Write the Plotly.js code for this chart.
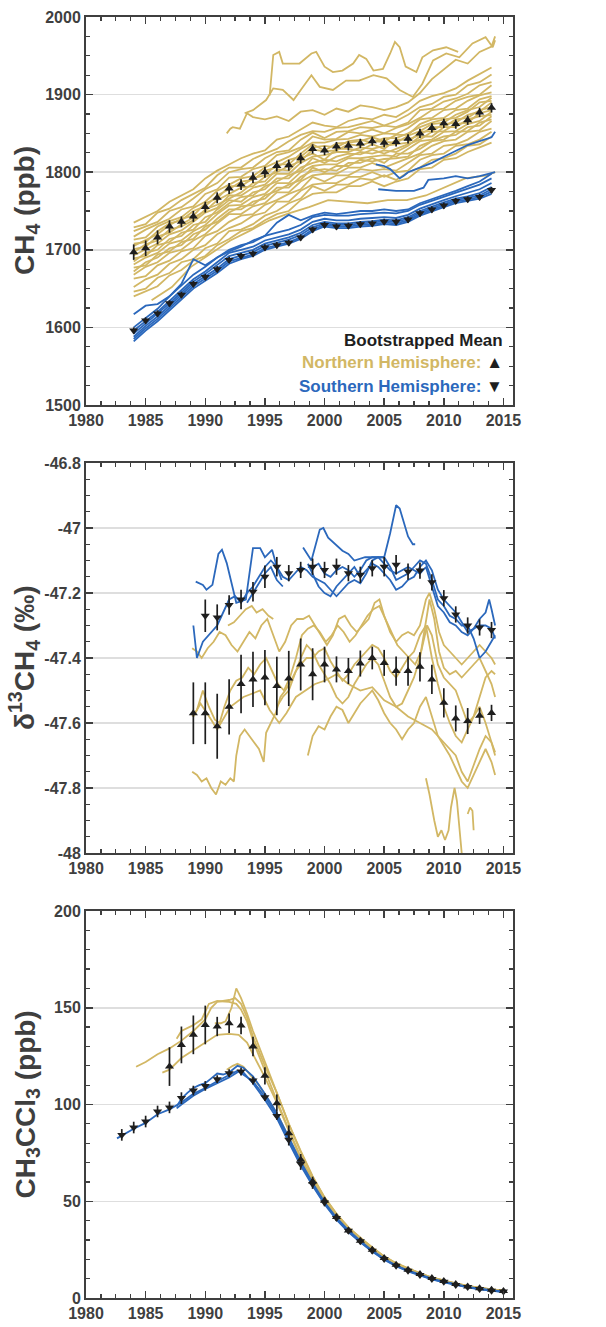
<!DOCTYPE html>
<html>
<head>
<meta charset="utf-8">
<script src="https://cdn.plot.ly/plotly-3.0.1.min.js"></script>
<style>html,body{margin:0;padding:0;background:#fff;}#chart{width:606px;height:1327px;}</style>
</head>
<body>
<div id="chart"></div>
<script>
// ---------------- Panel 1: CH4 (ppb) ----------------
const ch4Years = [1984,1985,1986,1987,1988,1989,1990,1991,1992,1993,1994,1995,1996,1997,1998,1999,2000,2001,2002,2003,2004,2005,2006,2007,2008,2009,2010,2011,2012,2013,2014];

const ch4NH1  = [1735,1742,1750,1762,1770,1778,1792,1802,1810,1818,1824,1828,1842,1846,1855,1864,1860,1858,1866,1870,1868,1874,1871,1880,1892,1898,1902,1908,1918,1926,1935];
const ch4NH2  = [1729,1733,1748,1753,1764,1772,1780,1796,1806,1806,1817,1824,1830,1840,1848,1853,1852,1857,1858,1862,1866,1860,1866,1874,1884,1888,1897,1900,1912,1916,1926];
const ch4NH3  = [1724,1730,1736,1750,1755,1766,1778,1786,1800,1804,1806,1818,1826,1828,1842,1851,1844,1852,1853,1858,1857,1860,1858,1864,1880,1882,1891,1895,1901,1912,1916];
const ch4NH4  = [1717,1726,1733,1740,1752,1756,1772,1778,1793,1794,1804,1808,1822,1826,1832,1846,1842,1843,1852,1850,1855,1850,1857,1862,1870,1880,1882,1892,1897,1900,1912];
const ch4NH5  = [1713,1716,1730,1737,1742,1754,1762,1776,1784,1792,1795,1806,1813,1820,1830,1838,1838,1842,1843,1848,1846,1850,1849,1857,1868,1870,1880,1882,1892,1899,1903];
const ch4NH6  = [1705,1713,1720,1732,1740,1744,1760,1766,1782,1782,1792,1796,1810,1810,1824,1836,1828,1837,1838,1840,1845,1840,1848,1848,1862,1868,1870,1880,1882,1894,1898];
const ch4NH7  = [1701,1704,1717,1722,1733,1742,1750,1764,1772,1780,1782,1794,1800,1808,1814,1829,1827,1828,1836,1834,1840,1839,1838,1847,1853,1862,1864,1874,1880,1884,1896];
const ch4NH8  = [1693,1701,1708,1720,1725,1736,1748,1754,1770,1770,1780,1784,1798,1798,1812,1820,1822,1826,1826,1832,1830,1834,1836,1838,1852,1853,1862,1864,1874,1878,1890];
const ch4NH9  = [1689,1692,1706,1710,1722,1726,1742,1748,1760,1768,1770,1782,1788,1796,1802,1818,1812,1820,1824,1823,1829,1824,1830,1836,1842,1852,1853,1862,1864,1876,1880];
const ch4NH10 = [1681,1690,1696,1708,1712,1724,1732,1746,1757,1758,1768,1772,1786,1786,1800,1808,1810,1810,1818,1818,1820,1822,1820,1830,1840,1842,1852,1853,1862,1866,1878];
const ch4NH11 = [1677,1680,1694,1698,1710,1714,1730,1736,1748,1756,1758,1770,1776,1784,1790,1806,1800,1808,1808,1816,1814,1817,1818,1820,1834,1840,1842,1852,1853,1864,1868];
const ch4NH12 = [1668,1678,1684,1696,1700,1712,1720,1734,1746,1746,1756,1760,1774,1774,1788,1796,1798,1798,1806,1806,1812,1806,1812,1818,1824,1834,1840,1842,1852,1854,1866];
const ch4NH13 = [1663,1666,1680,1686,1698,1702,1718,1724,1736,1744,1746,1758,1764,1772,1778,1794,1788,1796,1796,1804,1802,1804,1802,1812,1822,1824,1834,1836,1842,1852,1856];
const ch4NH14 = [1652,1662,1668,1682,1688,1700,1706,1720,1728,1734,1744,1748,1762,1762,1776,1784,1786,1786,1794,1794,1800,1794,1800,1802,1816,1822,1824,1834,1836,1842,1852];
const ch4NH15 = [1646,1650,1664,1670,1684,1688,1702,1708,1724,1726,1733,1744,1750,1760,1766,1782,1776,1784,1784,1792,1790,1796,1790,1800,1806,1816,1818,1824,1834,1836,1846];
const ch4NH16 = [1640,1646,1653,1667,1674,1686,1692,1706,1714,1724,1728,1738,1746,1750,1764,1772,1774,1774,1782,1782,1788,1782,1788,1792,1804,1806,1816,1818,1826,1832,1838];
const ch4NH17 = [1708,1710,1724,1734,1738,1750,1756,1770,1778,1788,1790,1802,1806,1816,1820,1832,1834,1832,1840,1842,1838,1844,1844,1850,1858,1864,1868,1870,1878,1890,1892];
const ch4NH18 = [1697,1707,1712,1726,1730,1738,1752,1758,1766,1774,1786,1788,1804,1802,1818,1824,1816,1830,1830,1828,1836,1830,1842,1842,1848,1858,1858,1868,1870,1880,1884];
const ch4NH19 = [1685,1696,1700,1714,1718,1732,1736,1752,1764,1762,1774,1778,1792,1792,1806,1812,1816,1814,1820,1826,1824,1828,1826,1834,1846,1846,1858,1858,1868,1872,1874];
const ch4NH20 = [1672,1684,1690,1702,1706,1720,1726,1740,1752,1752,1762,1766,1780,1780,1794,1802,1804,1802,1812,1812,1818,1812,1824,1824,1830,1840,1846,1848,1858,1860,1872];

// irregular NH stations [year, ppb]
const ch4NHlow  = [[1985.5,1635],[1987.2,1652],[1988.8,1678],[1990.5,1695],[1992.1,1712],[1993.8,1725],[1995.4,1738],[1997.0,1747],[1998.7,1755],[2000.3,1764],[2002.0,1762],[2003.6,1760],[2005.3,1764],[2006.9,1764],[2008.5,1770],[2010.2,1781],[2011.8,1792],[2013.6,1796],[2014.3,1800]];
const ch4NHtop1 = [[1995.4,1899],[1995.7,1951],[1996.2,1955],[1996.5,1940],[1997.1,1940],[1997.9,1940],[1998.9,1953],[1999.3,1955],[2000.0,1936],[2000.7,1929],[2001.5,1931],[2002.4,1940],[2002.9,1951],[2003.5,1946],[2004.1,1931],[2004.9,1933],[2005.5,1953],[2005.9,1968],[2006.3,1961],[2006.8,1936],[2007.7,1929],[2008.2,1948],[2009.1,1957],[2010.2,1961],[2011.2,1955]];
const ch4NHtop2 = [[1993.3,1876],[1994.0,1880],[1995.1,1893],[1995.7,1908],[1996.5,1906],[1997.4,1893],[1998.2,1910],[1998.9,1925],[1999.6,1910],[2000.7,1906],[2001.8,1918],[2002.9,1918],[2004.1,1925],[2005.2,1921],[2006.3,1906],[2007.4,1897],[2008.2,1914],[2009.1,1944],[2010.2,1953],[2011.3,1948],[2012.4,1966],[2013.5,1974],[2014.1,1961],[2014.3,1970]];
const ch4NHtop3 = [[1991.8,1850],[1992.1,1856],[1992.3,1858],[1992.9,1856],[1993.5,1876],[1994.0,1871],[1995.0,1868],[1996.0,1872],[1997.0,1866],[1998.0,1878],[1999.0,1880],[2000.0,1874],[2001.0,1882],[2002.0,1878],[2003.0,1886],[2004.0,1884],[2005.0,1880],[2006.0,1884],[2007.0,1890],[2008.0,1902],[2009.0,1920],[2010.0,1932],[2011.0,1945],[2012.0,1940],[2013.0,1955],[2014.0,1962],[2014.3,1975]];

const ch4SH1 = [1582,1596,1608,1622,1636,1650,1660,1670,1682,1688,1692,1700,1704,1708,1714,1724,1730,1728,1728,1730,1731,1733,1732,1736,1744,1750,1755,1760,1763,1766,1772];
const ch4SH2 = [1585,1599,1611,1625,1639,1653,1663,1673,1685,1690,1694,1702,1706,1710,1716,1726,1732,1730,1730,1732,1733,1735,1734,1738,1746,1752,1757,1762,1765,1768,1775];
const ch4SH3 = [1588,1602,1614,1628,1642,1656,1666,1676,1688,1693,1697,1705,1709,1713,1719,1729,1734,1732,1732,1734,1735,1737,1736,1740,1748,1754,1759,1764,1767,1770,1778];
const ch4SH4 = [1592,1605,1617,1631,1645,1659,1669,1680,1692,1696,1700,1708,1712,1716,1722,1732,1736,1734,1734,1736,1737,1739,1738,1742,1750,1756,1761,1766,1769,1773,1781];
const ch4SH5 = [1596,1608,1620,1634,1648,1662,1672,1684,1696,1700,1704,1712,1716,1720,1726,1736,1740,1738,1738,1740,1741,1742,1741,1745,1753,1759,1764,1769,1773,1778,1786];
const ch4SH6 = [1600,1612,1624,1640,1654,1668,1678,1690,1700,1706,1710,1718,1722,1726,1732,1742,1745,1744,1744,1746,1747,1748,1747,1750,1758,1763,1768,1773,1778,1784,1792];
const ch4SH7 = [1617,1628,1630,1640,1656,1688,1680,1690,1698,1704,1712,1718,1735,1745,1738,1744,1748,1746,1748,1750,1750,1752,1750,1752,1760,1765,1770,1776,1782,1788,1798];
const ch4SHhigh = [[2004.3,1810],[2005.0,1808],[2005.5,1804],[2006.0,1796],[2006.3,1792],[2006.7,1796],[2007.0,1800],[2008.0,1806],[2009.0,1812],[2010.0,1820],[2011.0,1828],[2012.0,1835],[2013.0,1840],[2014.0,1845],[2014.3,1852]];
const ch4SHmid  = [[2004.5,1778],[2006.0,1776],[2007.5,1776],[2008.3,1780],[2008.7,1790],[2010.0,1792],[2011.0,1795],[2012.0,1792],[2013.0,1795],[2014.3,1800]];

const ch4MeanNH = [1697,1702,1716,1730,1736,1743,1755,1767,1779,1784,1793,1800,1808,1809,1818,1830,1828,1833,1834,1837,1840,1838,1839,1843,1850,1857,1863,1862,1867,1877,1883];
const ch4ErrNH  = [10,10,9,8,7,7,7,7,7,7,7,7,7,7,7,6,6,6,6,6,6,6,6,6,6,6,6,6,6,6,6];
const ch4MeanSH = [1596,1609,1618,1631,1642,1656,1665,1675,1687,1692,1695,1703,1706,1709,1716,1726,1732,1730,1731,1733,1734,1736,1736,1739,1747,1752,1757,1763,1765,1768,1777];
const ch4ErrSH  = [4,4,4,4,4,4,4,4,4,4,4,4,4,4,4,4,4,4,4,4,4,4,4,4,4,4,4,4,4,4,4];

// ---------------- Panel 2: d13CH4 (permil) ----------------
const d13NH1 = [[1988.9,-47.37],[1989.3,-47.38],[1989.7,-47.40],[1990.2,-47.37],[1990.7,-47.35],[1991.2,-47.32],[1991.7,-47.33],[1992.2,-47.36],[1992.7,-47.38],[1993.2,-47.35],[1993.7,-47.32],[1994.2,-47.34],[1994.7,-47.30],[1995.2,-47.28],[1995.7,-47.33],[1996.2,-47.38],[1996.7,-47.35],[1997.2,-47.30],[1997.7,-47.28],[1998.2,-47.28],[1998.7,-47.27],[1999.2,-47.30],[1999.7,-47.33],[2000.2,-47.36],[2000.7,-47.33],[2001.2,-47.28],[2001.7,-47.27],[2002.2,-47.30],[2002.7,-47.32],[2003.2,-47.30],[2003.7,-47.28],[2004.2,-47.23],[2004.6,-47.22],[2005.0,-47.27],[2005.5,-47.32],[2006.0,-47.35],[2006.5,-47.33],[2007.0,-47.32],[2007.5,-47.33],[2008.0,-47.30],[2008.5,-47.22],[2008.8,-47.20],[2009.2,-47.25],[2009.6,-47.32],[2010.0,-47.36],[2010.5,-47.38],[2011.0,-47.40],[2011.5,-47.42],[2012.0,-47.40],[2012.5,-47.38],[2013.0,-47.36],[2013.5,-47.38],[2014.0,-47.40],[2014.3,-47.42]];
const d13NH2 = [[1991.9,-47.30],[1992.4,-47.29],[1992.9,-47.27],[1993.4,-47.25],[1993.9,-47.24],[1994.3,-47.26],[1994.8,-47.25],[1995.3,-47.27],[1995.7,-47.28]];
const d13NH3 = [[1988.9,-47.58],[1989.3,-47.56],[1989.8,-47.50],[1990.3,-47.55],[1990.8,-47.59],[1991.2,-47.60],[1991.6,-47.55],[1992.1,-47.50],[1992.6,-47.47],[1993.1,-47.46],[1993.6,-47.43],[1994.1,-47.45],[1994.6,-47.42],[1995.1,-47.40],[1995.6,-47.44],[1996.1,-47.48],[1996.6,-47.50],[1997.1,-47.46],[1997.6,-47.40],[1998.1,-47.33],[1998.6,-47.31],[1999.1,-47.30],[1999.6,-47.32],[2000.1,-47.35],[2000.6,-47.33],[2001.1,-47.30],[2001.6,-47.32],[2002.1,-47.35],[2002.6,-47.33],[2003.1,-47.30],[2003.6,-47.27],[2004.1,-47.25],[2004.6,-47.24],[2005.1,-47.28],[2005.6,-47.32],[2006.1,-47.36],[2006.6,-47.38],[2007.1,-47.40],[2007.6,-47.42],[2008.1,-47.38],[2008.6,-47.30],[2009.0,-47.33],[2009.5,-47.42],[2010.0,-47.46],[2010.5,-47.48],[2011.0,-47.50],[2011.5,-47.55],[2012.0,-47.60],[2012.5,-47.58],[2013.0,-47.52],[2013.5,-47.46],[2014.0,-47.44],[2014.3,-47.45]];
const d13NH4 = [[1988.9,-47.75],[1989.3,-47.76],[1989.7,-47.78],[1990.1,-47.77],[1990.5,-47.80],[1990.9,-47.82],[1991.3,-47.78],[1991.7,-47.79],[1992.1,-47.77],[1992.4,-47.78],[1992.6,-47.70],[1992.9,-47.64],[1993.3,-47.62],[1993.7,-47.64],[1994.1,-47.66],[1994.5,-47.68],[1994.9,-47.72],[1995.1,-47.63],[1995.5,-47.60],[1995.9,-47.57],[1996.3,-47.52],[1996.7,-47.50],[1997.2,-47.47],[1997.6,-47.44],[1998.0,-47.42],[1998.5,-47.40],[1999.0,-47.40],[1999.5,-47.38],[2000.0,-47.37],[2000.5,-47.41],[2001.0,-47.44],[2001.5,-47.47],[2002.0,-47.45],[2002.5,-47.42],[2003.0,-47.40],[2003.5,-47.38],[2004.0,-47.36],[2004.5,-47.37],[2005.0,-47.40],[2005.5,-47.44],[2006.0,-47.46],[2006.5,-47.43],[2007.0,-47.40],[2007.5,-47.38],[2008.0,-47.33],[2008.5,-47.30],[2009.0,-47.40],[2009.5,-47.48],[2010.0,-47.55],[2010.5,-47.60],[2011.0,-47.64],[2011.5,-47.66],[2012.0,-47.62],[2012.5,-47.58],[2013.0,-47.55],[2013.5,-47.60],[2014.0,-47.66],[2014.3,-47.69]];
const d13NH5 = [[1989.0,-47.58],[1989.6,-47.54],[1990.5,-47.59],[1991.0,-47.62],[1992.1,-47.55],[1993.2,-47.52],[1994.6,-47.50],[1995.4,-47.56],[1996.2,-47.60],[1996.8,-47.57],[1997.6,-47.52],[1998.4,-47.50],[1999.2,-47.48],[2000.0,-47.47],[2001.0,-47.45],[2002.0,-47.48],[2003.0,-47.50],[2004.0,-47.49],[2005.0,-47.53],[2006.0,-47.55],[2007.0,-47.58],[2008.0,-47.60],[2009.0,-47.62],[2010.0,-47.66],[2011.0,-47.70],[2011.5,-47.75],[2012.0,-47.78],[2012.5,-47.73],[2013.0,-47.68],[2013.5,-47.64],[2014.0,-47.66],[2014.3,-47.70]];
const d13NH6 = [[1998.6,-47.70],[1999.0,-47.64],[1999.5,-47.61],[2000.0,-47.62],[2000.5,-47.58],[2001.0,-47.55],[2001.5,-47.56],[2002.0,-47.60],[2002.5,-47.57],[2003.0,-47.54],[2003.5,-47.52],[2004.0,-47.50],[2004.5,-47.53],[2005.0,-47.57],[2005.5,-47.60],[2006.0,-47.62],[2006.5,-47.65],[2007.0,-47.62],[2007.5,-47.60],[2008.0,-47.55],[2008.5,-47.52],[2009.0,-47.58],[2009.5,-47.64],[2010.0,-47.67],[2010.5,-47.70],[2011.0,-47.74],[2011.5,-47.78],[2012.0,-47.80],[2012.5,-47.76],[2013.0,-47.72],[2013.5,-47.68],[2014.0,-47.72],[2014.3,-47.76]];
const d13NH7 = [[2008.5,-47.77],[2008.8,-47.82],[2009.2,-47.90],[2009.5,-47.95],[2009.8,-47.93],[2010.1,-47.96],[2010.4,-47.93],[2010.6,-47.86],[2010.9,-47.80],[2011.1,-47.84],[2011.3,-47.92],[2011.5,-48.00]];
const d13NH8 = [[2012.0,-47.88],[2012.2,-47.86],[2012.4,-47.87],[2012.5,-47.93]];
const d13NH9 = [[1996.0,-47.55],[1996.5,-47.52],[1997.0,-47.50],[1997.5,-47.45],[1998.0,-47.40],[1998.5,-47.36],[1999.0,-47.38],[1999.5,-47.42],[2000.0,-47.45],[2000.5,-47.48],[2001.0,-47.52],[2001.5,-47.54],[2002.0,-47.52],[2002.5,-47.48],[2003.0,-47.45],[2003.5,-47.42],[2004.0,-47.40],[2004.5,-47.42],[2005.0,-47.47],[2005.5,-47.52],[2006.0,-47.55],[2006.5,-47.54],[2007.0,-47.50],[2007.5,-47.46],[2008.0,-47.40],[2008.5,-47.28],[2008.8,-47.22],[2009.2,-47.28],[2009.6,-47.38],[2010.0,-47.43],[2010.5,-47.45],[2011.0,-47.44],[2011.5,-47.46],[2012.0,-47.44],[2012.5,-47.42],[2013.0,-47.40],[2013.5,-47.44],[2014.0,-47.48],[2014.3,-47.52]];

const d13SH1 = [[1989.2,-47.165],[1989.8,-47.175],[1990.1,-47.19],[1990.6,-47.175],[1991.1,-47.08],[1991.4,-47.067],[1991.8,-47.108],[1992.3,-47.18],[1992.6,-47.23],[1993.4,-47.22],[1994.0,-47.062],[1994.6,-47.062],[1995.0,-47.09],[1995.6,-47.067],[1996.0,-47.12],[1996.4,-47.16]];
const d13SH2 = [[1989.0,-47.30],[1989.3,-47.40],[1989.8,-47.35],[1990.5,-47.32],[1991.0,-47.30],[1991.5,-47.26],[1992.0,-47.22],[1992.5,-47.21],[1993.0,-47.23],[1993.5,-47.20],[1994.0,-47.18],[1994.5,-47.15],[1995.0,-47.12],[1995.5,-47.10],[1996.0,-47.12],[1996.5,-47.15],[1997.0,-47.16],[1997.5,-47.14],[1998.0,-47.12],[1998.5,-47.13],[1999.0,-47.15],[1999.5,-47.16],[2000.0,-47.17],[2000.5,-47.19],[2001.0,-47.21],[2001.5,-47.19],[2002.0,-47.17],[2002.5,-47.16],[2003.0,-47.17],[2003.5,-47.14],[2004.0,-47.10],[2004.5,-47.09],[2005.0,-47.09],[2005.5,-47.12],[2006.0,-47.16],[2006.5,-47.15],[2007.0,-47.14],[2007.5,-47.12],[2008.0,-47.10],[2008.5,-47.11],[2009.0,-47.16],[2009.5,-47.22],[2010.0,-47.24],[2010.5,-47.27],[2011.0,-47.28],[2011.5,-47.30],[2012.0,-47.30],[2012.5,-47.34],[2013.0,-47.40],[2013.5,-47.38],[2014.0,-47.35],[2014.3,-47.33]];
const d13SH3 = [[1998.2,-47.06],[1998.9,-47.10],[1999.6,-47.005],[1999.9,-47.00],[2000.3,-47.03],[2000.9,-47.05],[2001.5,-47.07],[2002.0,-47.08],[2002.5,-47.10],[2003.4,-47.09],[2004.2,-47.09],[2005.0,-47.09],[2005.5,-47.016],[2006.0,-46.93],[2006.3,-46.94],[2006.6,-46.975],[2007.0,-47.026],[2007.4,-47.05],[2007.6,-47.05]];
const d13SH4 = [[1993.5,-47.23],[1994.0,-47.20],[1994.5,-47.17],[1995.0,-47.14],[1995.5,-47.12],[1996.0,-47.16],[1996.5,-47.18]];
const d13SH5 = [[1998.6,-47.11],[1999.0,-47.14],[1999.5,-47.18],[2000.0,-47.20],[2000.5,-47.21],[2001.0,-47.18],[2001.5,-47.16],[2002.0,-47.14],[2002.5,-47.12],[2003.0,-47.15],[2003.5,-47.13],[2004.0,-47.11],[2004.5,-47.12],[2005.0,-47.14],[2005.5,-47.16],[2006.0,-47.19],[2006.5,-47.18],[2007.0,-47.16],[2007.5,-47.15],[2008.0,-47.12],[2008.5,-47.10],[2009.0,-47.13],[2009.5,-47.19],[2010.0,-47.22],[2010.5,-47.24],[2011.0,-47.26],[2011.5,-47.29],[2012.0,-47.32],[2012.5,-47.31],[2013.0,-47.28],[2013.5,-47.26],[2013.8,-47.22],[2014.0,-47.25],[2014.3,-47.30]];
const d13SH6 = [[1998.6,-47.12],[1999.0,-47.12],[1999.5,-47.11],[2000.0,-47.14],[2000.5,-47.15],[2001.0,-47.13],[2001.5,-47.12],[2002.0,-47.13],[2002.5,-47.15],[2003.0,-47.13],[2003.5,-47.10],[2004.0,-47.09],[2004.5,-47.09],[2005.0,-47.11],[2005.5,-47.13],[2006.0,-47.14],[2006.5,-47.13],[2007.0,-47.12],[2007.5,-47.13],[2008.0,-47.14],[2008.5,-47.12],[2009.0,-47.18],[2009.5,-47.24],[2010.0,-47.26],[2010.5,-47.29],[2011.0,-47.30],[2011.5,-47.32],[2012.0,-47.33],[2012.5,-47.31],[2013.0,-47.30],[2013.5,-47.30],[2014.0,-47.31],[2014.3,-47.34]];

const d13YearsNH = [1989,1990,1991,1992,1993,1994,1995,1996,1997,1998,1999,2000,2001,2002,2003,2004,2005,2006,2007,2008,2009,2010,2011,2012,2013,2014];
const d13MeanNH  = [-47.57,-47.57,-47.61,-47.55,-47.48,-47.466,-47.46,-47.486,-47.463,-47.42,-47.45,-47.42,-47.435,-47.44,-47.417,-47.40,-47.415,-47.44,-47.44,-47.427,-47.466,-47.538,-47.586,-47.594,-47.578,-47.569];
const d13ErrNH   = [0.095,0.095,0.1,0.085,0.09,0.085,0.085,0.09,0.085,0.08,0.08,0.055,0.04,0.04,0.04,0.035,0.04,0.045,0.045,0.045,0.045,0.045,0.04,0.04,0.025,0.025];
const d13YearsSH = [1990,1991,1992,1993,1994,1995,1996,1997,1998,1999,2000,2001,2002,2003,2004,2005,2006,2007,2008,2009,2010,2011,2012,2013,2014];
const d13MeanSH  = [-47.27,-47.275,-47.237,-47.22,-47.196,-47.15,-47.119,-47.139,-47.129,-47.119,-47.129,-47.119,-47.139,-47.144,-47.124,-47.119,-47.113,-47.134,-47.131,-47.167,-47.216,-47.266,-47.30,-47.306,-47.314];
const d13ErrSH   = [0.05,0.04,0.03,0.03,0.03,0.035,0.03,0.025,0.025,0.025,0.025,0.025,0.025,0.025,0.025,0.03,0.03,0.025,0.025,0.025,0.025,0.025,0.025,0.025,0.025];
const d13TickVals = [-48,-47.8,-47.6,-47.4,-47.2,-47,-46.8];
const d13TickText = ['-48','-47.8','-47.6','-47.4','-47.2','-47','-46.8'];

// ---------------- Panel 3: CH3CCl3 (ppb) ----------------
const mcfNH1 = [[1984.2,119.5],[1985,122],[1986,126],[1987,129],[1988,133],[1989,138],[1990,144],[1990.5,150],[1991,153],[1992,154],[1992.5,155],[1993,152],[1993.5,145],[1994,135],[1995,120],[1996,106],[1997,90],[1998,76],[1999,63],[2000,52],[2001,43.5],[2002,36.5],[2003,31],[2004,26],[2005,21.5],[2006,18],[2007,15.2],[2008,12.8],[2009,10.6],[2010,9],[2011,7.5],[2012,6.2],[2013,5.2],[2014,4.4],[2015,3.8]];
const mcfNH2 = [[1986.4,116.5],[1987,118],[1988,124],[1989,128],[1990,132],[1991,136],[1992,136.5],[1992.8,136],[1993.5,132],[1994,126],[1995,114],[1996,101],[1997,86],[1998,72],[1999,60.5],[2000,50.5],[2001,42],[2002,35.5],[2003,30],[2004,25.3],[2005,21],[2006,17.5],[2007,14.8],[2008,12.5],[2009,10.4],[2010,8.8],[2011,7.3],[2012,6.1],[2013,5.1],[2014,4.3],[2015,3.7]];
const mcfNH3 = [[1987.6,134],[1988,138],[1989,141],[1989.7,144],[1990.3,152],[1991,153.5],[1992,153],[1992.6,152],[1993,149],[1993.5,143],[1994,133],[1995,117],[1996,102],[1997,87],[1998,73],[1999,61],[2000,51],[2001,42.8],[2002,36],[2003,30.5],[2004,25.6],[2005,21.2],[2006,17.7],[2007,15],[2008,12.6],[2009,10.5],[2010,8.9],[2011,7.4],[2012,6.1],[2013,5.1],[2014,4.3],[2015,3.7]];
const mcfNH4 = [[1990.8,142],[1991.3,142],[1991.7,143],[1992.2,150],[1992.6,160],[1993,155],[1993.5,147],[1994,138],[1995,122],[1996,106],[1997,90],[1998,75.5],[1999,62.5],[2000,52],[2001,43.5],[2002,36.5],[2003,31],[2004,26],[2005,21.5],[2006,18],[2007,15.2],[2008,12.8],[2009,10.6],[2010,9],[2011,7.5],[2012,6.2],[2013,5.2],[2014,4.4],[2015,3.8]];
const mcfNH5 = [[1991.8,118],[1992.3,120],[1992.7,121],[1993.2,119.5],[1993.8,115],[1994.5,110],[1995,105],[1996,95.5],[1997,83],[1998,70.5],[1999,60],[2000,50],[2001,42],[2002,35],[2003,29.7],[2004,25],[2005,20.6],[2006,17.1],[2007,14.5],[2008,12.2],[2009,10.2],[2010,8.6],[2011,7.1],[2012,5.9],[2013,4.9],[2014,4.1],[2015,3.5]];

const mcfSH1 = [[1982.6,82.5],[1983,84],[1984,87.5],[1985,90.5],[1986,95],[1987,97.5],[1988,101],[1989,105.5],[1990,108.5],[1991,112],[1992,115],[1992.7,117.5],[1993.2,116.5],[1994,111],[1995,102.5],[1996,93],[1997,80.5],[1998,68.5],[1999,58],[2000,48.5],[2001,40.5],[2002,34],[2003,28.8],[2004,24],[2005,19.8],[2006,16.4],[2007,13.8],[2008,11.6],[2009,9.6],[2010,8.1],[2011,6.6],[2012,5.5],[2013,4.5],[2014,3.7],[2015,3.1]];
const mcfSH2 = [[1987.6,99],[1988,103],[1988.5,106],[1989,108.5],[1989.5,110],[1990,111],[1990.5,113.5],[1991,116],[1991.5,115.5],[1992,116.5],[1992.7,120],[1993.2,119],[1994,114.5],[1995,105.5],[1996,95.5],[1997,83],[1998,70.5],[1999,59.5],[2000,49.5],[2001,41.5],[2002,35],[2003,29.5],[2004,24.5],[2005,20.3],[2006,16.8],[2007,14.2],[2008,12],[2009,10],[2010,8.4],[2011,6.9],[2012,5.8],[2013,4.8],[2014,4],[2015,3.3]];
const mcfSH3 = [[1987.6,98],[1988,100],[1989,104.5],[1990,108],[1991,111],[1992,114],[1992.8,117],[1993.5,114],[1994,112],[1995,104],[1996,94.5],[1997,82],[1998,69.5],[1999,58.5],[2000,49],[2001,41],[2002,34.5],[2003,29],[2004,24.2],[2005,20],[2006,16.6],[2007,14],[2008,11.8],[2009,9.8],[2010,8.3],[2011,6.8],[2012,5.6],[2013,4.6],[2014,3.8],[2015,3.2]];

const mcfYearsNH = [1987,1988,1989,1990,1991,1992,1993,1994,1995,1996,1997,1998,1999,2000,2001,2002,2003,2004,2005,2006,2007,2008,2009,2010,2011,2012,2013,2014,2015];
const mcfMeanNH  = [119.6,130.8,136,141.1,140.3,142,140.8,130,114.8,100.7,85.2,71.4,60.2,50.3,41.8,34.9,29.6,25,20.7,17.2,14.6,12.4,10.3,8.8,7.2,6.0,5.0,4.3,3.6];
const mcfErrNH   = [10,9.5,10,10,5,5,4.5,5,4.5,4.5,4,3,2.5,2,1.8,1.5,1.5,1.5,1.5,1.3,1.3,1.2,1.2,1.1,1,1,1,1,1];
const mcfYearsSH = [1983,1984,1985,1986,1987,1988,1989,1990,1991,1992,1993,1994,1995,1996,1997,1998,1999,2000,2001,2002,2003,2004,2005,2006,2007,2008,2009,2010,2011,2012,2013,2014,2015];
const mcfMeanSH  = [84.3,88.1,91.2,96.4,98.5,103.3,107.2,109.6,113.1,116.2,117,112.4,103.8,94.1,81.8,69.2,58.9,49.4,41.3,34.8,29.3,24.4,20.1,16.7,14.1,11.9,9.8,8.4,6.7,5.7,4.6,3.8,3.3];
const mcfErrSH   = [3,3,3,3,3,3,2.5,2.5,2,2,2,2,2,2,3,3,2.5,2,1.5,1.5,1.5,1.5,1.2,1.2,1.2,1,1,1,1,1,1,1,1];

// ---------------- styling ----------------
const GOLD = '#D2B764';
const BLUE = '#2B68BC';
const INK  = '#1e1e1e';
const AXC  = '#3f3f3f';
const FONT = 'Liberation Sans, Arial, Helvetica, sans-serif';

const traces = [];
function lineXY(xs, ys, color, ax) {
  traces.push({type:'scatter', mode:'lines', x:xs, y:ys, xaxis:'x'+ax, yaxis:'y'+ax,
    line:{color:color, width:1.8}, hoverinfo:'skip', showlegend:false});
}
function linePairs(pairs, color, ax) {
  lineXY(pairs.map(p=>p[0]), pairs.map(p=>p[1]), color, ax);
}
function means(xs, ys, err, symbol, ax) {
  traces.push({type:'scatter', mode:'markers', x:xs, y:ys, xaxis:'x'+ax, yaxis:'y'+ax,
    error_y:{type:'data', array:err, visible:true, color:INK, thickness:1.7, width:0},
    marker:{symbol:symbol, size:8, color:INK}, hoverinfo:'skip', showlegend:false});
}

// Panel 1
[ch4NH1,ch4NH2,ch4NH3,ch4NH4,ch4NH5,ch4NH6,ch4NH7,ch4NH8,ch4NH9,ch4NH10,ch4NH11,ch4NH12,ch4NH13,ch4NH14,ch4NH15,ch4NH16,ch4NH17,ch4NH18,ch4NH19,ch4NH20]
  .forEach(v => lineXY(ch4Years, v, GOLD, ''));
[ch4NHlow, ch4NHtop1, ch4NHtop2, ch4NHtop3].forEach(p => linePairs(p, GOLD, ''));
[ch4SH7,ch4SH6,ch4SH5,ch4SH4,ch4SH3,ch4SH2,ch4SH1].forEach(v => lineXY(ch4Years, v, BLUE, ''));
[ch4SHhigh, ch4SHmid].forEach(p => linePairs(p, BLUE, ''));
means(ch4Years, ch4MeanNH, ch4ErrNH, 'triangle-up', '');
means(ch4Years, ch4MeanSH, ch4ErrSH, 'triangle-down', '');

// Panel 2
[d13NH1,d13NH2,d13NH3,d13NH4,d13NH5,d13NH6,d13NH7,d13NH8,d13NH9].forEach(p => linePairs(p, GOLD, '2'));
[d13SH1,d13SH2,d13SH3,d13SH4,d13SH5,d13SH6].forEach(p => linePairs(p, BLUE, '2'));
means(d13YearsNH, d13MeanNH, d13ErrNH, 'triangle-up', '2');
means(d13YearsSH, d13MeanSH, d13ErrSH, 'triangle-down', '2');

// Panel 3
[mcfNH1,mcfNH2,mcfNH3,mcfNH4,mcfNH5].forEach(p => linePairs(p, GOLD, '3'));
[mcfSH1,mcfSH2,mcfSH3].forEach(p => linePairs(p, BLUE, '3'));
means(mcfYearsNH, mcfMeanNH, mcfErrNH, 'triangle-up', '3');
means(mcfYearsSH, mcfMeanSH, mcfErrSH, 'triangle-down', '3');

const tickFont = {family:FONT, size:16, color:AXC, weight:'bold'};
function xAxis(anchor) {
  return {anchor:anchor, domain:[0,1], range:[1980,2015.8], tick0:1980, dtick:5,
    showline:true, linecolor:AXC, linewidth:2, mirror:'allticks',
    ticks:'inside', ticklen:7, tickwidth:1.5, tickcolor:AXC, tickfont:tickFont,
    minor:{ticks:'inside', ticklen:4, tickwidth:1.3, tickcolor:AXC, tick0:1980, dtick:1.25, showgrid:false},
    showgrid:false, zeroline:false, fixedrange:true};
}
function yAxis(anchor, domain, range, dtick, minorDtick) {
  return {anchor:anchor, domain:domain, range:range, dtick:dtick,
    showline:true, linecolor:AXC, linewidth:2, mirror:'allticks',
    ticks:'inside', ticklen:7, tickwidth:1.5, tickcolor:AXC, tickfont:tickFont,
    minor:{ticks:'inside', ticklen:4, tickwidth:1.3, tickcolor:AXC, dtick:minorDtick, showgrid:false},
    showgrid:true, gridcolor:'#dedede', gridwidth:1.5, zeroline:false, fixedrange:true};
}

const H = 1281; // plot-area height in px (1327 - 17 - 29)
const dom1 = [893/H, 1];
const dom2 = [445/H, 835/H];
const dom3 = [0, 387/H];

const y2 = yAxis('x2', dom2, [-48,-46.8], 0.2, 0.05);
y2.tickmode = 'array'; y2.tickvals = d13TickVals; y2.ticktext = d13TickText;
y2.minor = {ticks:'inside', ticklen:4, tickwidth:1.3, tickcolor:AXC, tick0:-48, dtick:0.05, showgrid:false};

const titleFont = {family:FONT, size:28, color:AXC, weight:'bold'};
const legFont = {family:FONT, size:17, weight:'bold'};
const layout = {
  width:606, height:1327,
  margin:{l:86, r:93, t:17, b:29},
  paper_bgcolor:'#ffffff', plot_bgcolor:'#ffffff',
  showlegend:false,
  xaxis: xAxis('y'),
  yaxis: yAxis('x', dom1, [1500,2000], 100, 25),
  xaxis2: xAxis('y2'),
  yaxis2: y2,
  xaxis3: xAxis('y3'),
  yaxis3: yAxis('x3', dom3, [0,200], 50, 10),
  annotations: [
    {xref:'paper', yref:'paper', x:-0.138, y:(dom1[0]+dom1[1])/2, textangle:-90, showarrow:false,
     xanchor:'center', yanchor:'middle', text:'CH<sub>4</sub> (ppb)', font:titleFont},
    {xref:'paper', yref:'paper', x:-0.145, y:(dom2[0]+dom2[1])/2, textangle:-90, showarrow:false,
     xanchor:'center', yanchor:'middle', text:'δ<sup>13</sup>CH<sub>4</sub> (‰)', font:titleFont},
    {xref:'paper', yref:'paper', x:-0.138, y:(dom3[0]+dom3[1])/2, textangle:-90, showarrow:false,
     xanchor:'center', yanchor:'middle', text:'CH<sub>3</sub>CCl<sub>3</sub> (ppb)', font:titleFont},
    {xref:'paper', yref:'paper', x:0.981, y:(1298-341)/H, xanchor:'right', yanchor:'middle', showarrow:false,
     text:'Bootstrapped Mean', font:Object.assign({color:INK}, legFont)},
    {xref:'paper', yref:'paper', x:0.981, y:(1298-363)/H, xanchor:'right', yanchor:'middle', showarrow:false,
     text:'Northern Hemisphere: <span style="color:#1e1e1e">▲</span>', font:Object.assign({color:GOLD}, legFont)},
    {xref:'paper', yref:'paper', x:0.981, y:(1298-386)/H, xanchor:'right', yanchor:'middle', showarrow:false,
     text:'Southern Hemisphere: <span style="color:#1e1e1e">▼</span>', font:Object.assign({color:BLUE}, legFont)}
  ]
};

Plotly.newPlot('chart', traces, layout, {staticPlot:true, displayModeBar:false});
</script>
</body>
</html>
